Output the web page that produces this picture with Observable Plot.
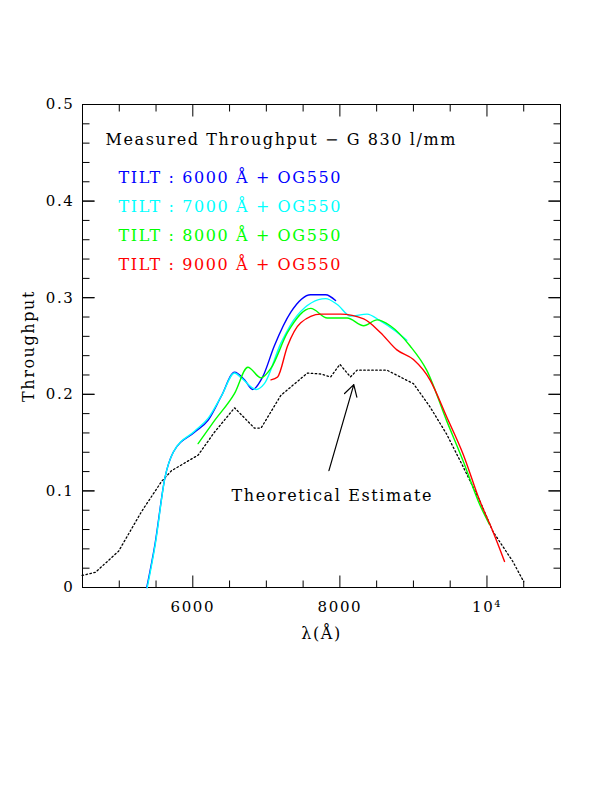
<!DOCTYPE html>
<html><head><meta charset="utf-8">
<script src="https://cdn.jsdelivr.net/npm/d3@7"></script>
<script src="https://cdn.jsdelivr.net/npm/@observablehq/plot@0.6"></script>
<style>body{margin:0;background:#fff} svg text{font-family:'DejaVu Serif',serif;letter-spacing:1.6px}</style>
</head><body><div id="c"></div>
<script>
const theoWl=[4495,4676,4991,5306,5577,5712,6072,6297,6568,6838,6928,7198,7559,7739,7874,8000,8144,8234,8640,9000,9225,9450,9676,9901,10081,10351,10500];
const theoV=[0.0125,0.0157,0.0376,0.079,0.11,0.121,0.137,0.161,0.186,0.165,0.165,0.199,0.222,0.221,0.218,0.231,0.218,0.225,0.225,0.211,0.187,0.159,0.125,0.090,0.058,0.027,0.006];
const t6Wl=[5374,5486,5622,5734,6027,6207,6387,6568,6703,6815,6950,7108,7333,7604,7806,7941];
const t6V=[0,0.045,0.114,0.140,0.161,0.173,0.198,0.223,0.215,0.205,0.218,0.25,0.285,0.303,0.303,0.297];
const t7Wl=[5380,5490,5622,5734,6027,6207,6387,6568,6660,6860,6973,7198,7423,7806,7964,8144,8369,8550,8730,8910];
const t7V=[0,0.045,0.114,0.140,0.162,0.175,0.198,0.222,0.217,0.205,0.211,0.253,0.282,0.299,0.293,0.281,0.283,0.276,0.267,0.256];
const t8Wl=[6072,6297,6568,6748,6928,7063,7288,7604,7829,8099,8324,8505,8685,8955,9180,9450,9676,9901,10036];
const t8V=[0.149,0.173,0.201,0.228,0.217,0.227,0.264,0.289,0.279,0.279,0.271,0.277,0.271,0.25,0.225,0.173,0.131,0.086,0.065];
const t9Wl=[7063,7153,7288,7468,7739,8009,8324,8550,8775,9000,9225,9450,9676,9901,10081,10239];
const t9V=[0.215,0.218,0.25,0.274,0.283,0.283,0.278,0.264,0.246,0.236,0.215,0.177,0.138,0.090,0.058,0.027];
const legendLabels=["TILT : 6000 Å + OG550","TILT : 7000 Å + OG550","TILT : 8000 Å + OG550","TILT : 9000 Å + OG550"];
const colors=["#0000ff","#00ffff","#00ff00","#ff0000"];
const xMajor=[6000,8000,10000], xMajorLabels=["6000","8000","10⁴"];
const xMinor=d3.range(5000,11000,500);
const yMajor=[0,0.1,0.2,0.3,0.4,0.5], yMinor=d3.range(0.02,0.5,0.02);

const F="'DejaVu Serif', serif";
const pts=(w,v,s)=>w.map((x,i)=>({x,y:v[i],s}));
const series=[pts(t6Wl,t6V,0),pts(t7Wl,t7V,1),pts(t8Wl,t8V,2),pts(t9Wl,t9V,3)];
const X0=4500,X1=11000;
const dx=6500/478, dy=0.5/483;
const tk=[];
for(const x of xMinor){const L=xMajor.includes(x)?12:7;tk.push({x1:x,x2:x,y1:0,y2:L*dy},{x1:x,x2:x,y1:0.5,y2:0.5-L*dy});}
for(const y of yMinor.concat(yMajor)){const L=yMajor.some(m=>Math.abs(m-y)<1e-9)?12:7;tk.push({x1:X0,x2:X0+L*dx,y1:y,y2:y},{x1:X1,x2:X1-L*dx,y1:y,y2:y});}
const legend=legendLabels.map((t,i)=>({t,i,y:0.5-(177-104)*dy-i*29*dy}));

const p=Plot.plot({
 width:612,height:680,marginLeft:82,marginRight:52,marginTop:104,marginBottom:93,
 style:{fontFamily:F,fontSize:"15px",background:"#fff"},
 x:{domain:[X0,X1],axis:null},
 y:{domain:[0,0.5],axis:null},
 marks:[
  Plot.frame({stroke:"black"}),
  Plot.link(tk,{x1:"x1",x2:"x2",y1:"y1",y2:"y2",stroke:"black"}),
  Plot.text(xMajor,{x:d=>d,y:0,dy:20,text:(d,i)=>xMajorLabels[i],fontSize:15}),
  Plot.text(yMajor,{x:X0,y:d=>d,dx:-8,textAnchor:"end",text:d=>String(d),fontSize:15}),
  Plot.text(["λ(Å)"],{x:7750,y:0,dy:46,fontSize:16}),
  Plot.text(["Throughput"],{x:X0,y:0.25,dx:-54,rotate:-90,fontSize:16}),
  Plot.line(pts(theoWl,theoV,"t"),{x:"x",y:"y",stroke:"black",strokeDasharray:"1.5,2.5",strokeWidth:1.3}),
  ...series.map((s,i)=>Plot.line(s,{x:"x",y:"y",stroke:colors[i],strokeWidth:1.4,curve:"monotone-x"})),
  Plot.arrow([{a:7851,b:0.121,c:8189,d:0.21}],{x1:"a",y1:"b",x2:"c",y2:"d",stroke:"black",headLength:16,strokeWidth:1.2}),
  Plot.text(["Theoretical Estimate"],{x:7896,y:0.095,fontSize:16}),
  Plot.text(["Measured Throughput − G 830 l/mm"],{x:X0,y:0.5-(139-104)*dy,dx:23,textAnchor:"start",fontSize:16}),
  Plot.text(legend,{x:X0,y:"y",dx:36,textAnchor:"start",text:"t",fill:d=>colors[d.i],fontSize:16})
 ]
});
document.getElementById("c").append(p);
</script></body></html>
